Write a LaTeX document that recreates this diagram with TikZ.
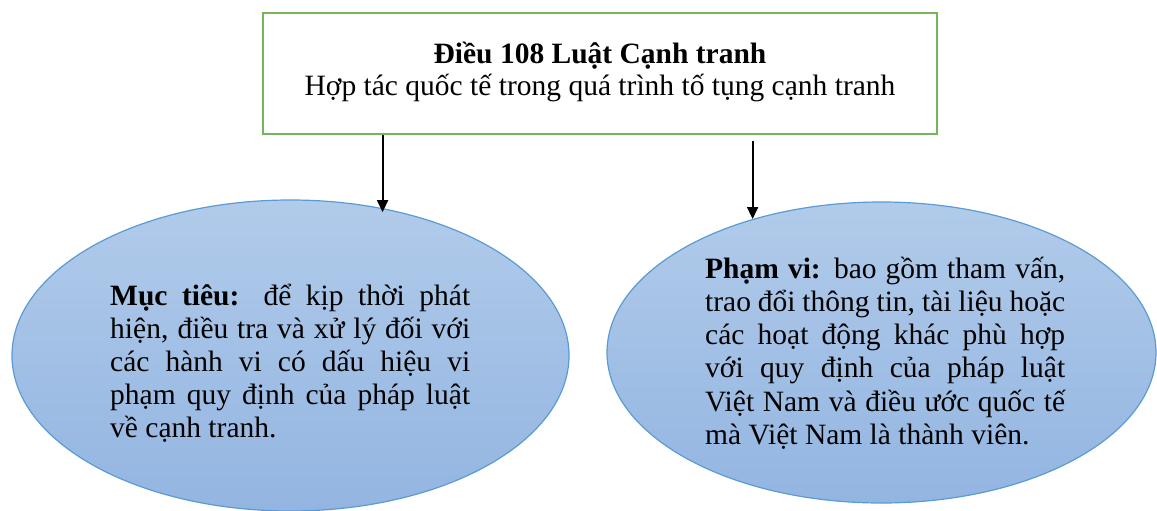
\documentclass[tikz,border=0pt]{standalone}
\usepackage{fontspec}
\setmainfont{Liberation Serif}
\usetikzlibrary{shapes.geometric,arrows.meta}
\definecolor{boxgreen}{HTML}{77B55A}
\definecolor{ellline}{HTML}{5B9BD5}
\definecolor{elltop}{HTML}{B1CBEA}
\definecolor{ellbot}{HTML}{93B5E1}
% one justified line, and a last (ragged) line of a paragraph
\newcommand{\jline}[1]{\hbox to 360pt{#1}}
\newcommand{\lastline}[1]{\hbox to 360pt{#1\hfil}}
\tikzset{
  titlebox/.style={draw=boxgreen, line width=1.6pt, fill=white, rectangle,
    minimum width=674pt, minimum height=121pt, inner sep=0pt},
  titletext/.style={inner sep=0pt, align=center,
    font=\fontsize{29.5}{32}\selectfont},
  bubble/.style={ellipse, draw=ellline, line width=1.2pt,
    top color=elltop, bottom color=ellbot, inner sep=0pt},
  bodytext/.style={anchor=base west, inner sep=0pt,
    font=\fontsize{29.5}{33.5}\selectfont},
  arr/.style={-{Triangle[length=12pt,width=11pt]}, line width=2pt, black}
}
\begin{document}
\begin{tikzpicture}[x=1pt,y=-1pt]
\useasboundingbox (0,0) rectangle (1157,511);
\node[titlebox] (box) at (600,73.5) {};
\node[titletext] (title) at (600,71.5)
  {\textbf{Điều 108 Luật Cạnh tranh}\\Hợp tác quốc tế trong quá trình tố tụng cạnh tranh};
\node[bubble, minimum width=557pt, minimum height=311pt] (ellL) at (290.5,355.5) {};
\node[bubble, minimum width=549pt, minimum height=301pt] (ellR) at (881.5,352.5) {};
\node[bodytext] (txtL) at (110,305) {\vtop{\baselineskip=33pt
  \jline{\textbf{Mục tiêu:} để kịp thời phát}
  \jline{hiện, điều tra và xử lý đối với}
  \jline{các hành vi có dấu hiệu vi}
  \jline{phạm quy định của pháp luật}
  \lastline{về cạnh tranh.}}};
\node[bodytext] (txtR) at (705,278) {\vtop{\baselineskip=33.3pt
  \jline{\textbf{Phạm vi:} bao gồm tham vấn,}
  \jline{trao đổi thông tin, tài liệu hoặc}
  \jline{các hoạt động khác phù hợp}
  \jline{với quy định của pháp luật}
  \jline{Việt Nam và điều ước quốc tế}
  \lastline{mà Việt Nam là thành viên.}}};
\draw[arr, shorten >=-4pt] (box.south -| ellL.58) -- (ellL.58);
\draw[arr, shorten <=6pt] (box.south -| ellR.134.6) -- (ellR.134.6);
\end{tikzpicture}
\end{document}
